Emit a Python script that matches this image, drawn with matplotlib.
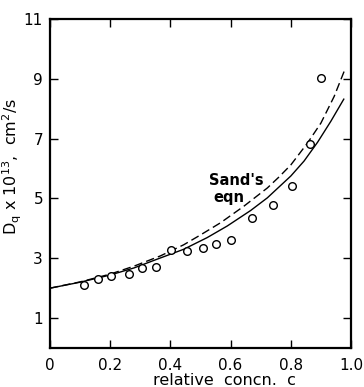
import matplotlib
matplotlib.use("Agg")
import matplotlib.pyplot as plt

# measured data points
c_pts = [0.113, 0.158, 0.204, 0.261, 0.306, 0.351, 0.403, 0.456, 0.508, 0.553, 0.600, 0.670, 0.740, 0.803, 0.863, 0.900]
d_pts = [2.11, 2.31, 2.41, 2.47, 2.66, 2.72, 3.27, 3.23, 3.34, 3.49, 3.60, 4.33, 4.77, 5.41, 6.83, 9.04]

# solid curve
c_solid = [0.0, 0.1, 0.2, 0.28, 0.356, 0.444, 0.522, 0.589, 0.667, 0.722, 0.8, 0.844, 0.889, 0.933, 0.976]
d_solid = [2.0, 2.2, 2.44, 2.68, 2.97, 3.3, 3.69, 4.08, 4.6, 5.02, 5.75, 6.25, 6.88, 7.58, 8.32]

# dashed curve (Sand's eqn)
c_dash = [0.0, 0.1, 0.2, 0.28, 0.367, 0.444, 0.5, 0.567, 0.644, 0.722, 0.761, 0.8, 0.856, 0.9, 0.944, 0.98]
d_dash = [2.0, 2.21, 2.47, 2.74, 3.08, 3.45, 3.78, 4.19, 4.74, 5.35, 5.72, 6.12, 6.86, 7.52, 8.41, 9.32]

xticks = [0, 0.2, 0.4, 0.6, 0.8, 1.0]
xticklabels = ["0", "0.2", "0.4", "0.6", "0.8", "1.0"]
yticks = [1, 3, 5, 7, 9, 11]
yticklabels = ["1", "3", "5", "7", "9", "11"]

plt.rcParams['font.family'] = ['DejaVu Sans']
fig = plt.figure(figsize=(3.64, 3.87), dpi=100)
ax = fig.add_axes([50/364, 1-348/387, 301/364, 329/387])

ax.plot(c_solid, d_solid, '-', color='black', lw=1.0)
ax.plot(c_dash, d_dash, '--', color='black', lw=1.0, dashes=(6, 3))
ax.plot(c_pts, d_pts, 'o', mfc='white', mec='black', ms=5.5, mew=1.0, zorder=3)

ax.set_xlim(0, 1.0)
ax.set_ylim(0, 11)
ax.set_xticks(xticks)
ax.set_xticklabels(xticklabels)
ax.set_yticks(yticks)
ax.set_yticklabels(yticklabels)
ax.tick_params(direction='in', length=6, width=1, top=True, right=True, labelsize=11, pad=5)
ax.tick_params(axis='x', pad=7)
for s in ax.spines.values():
    s.set_linewidth(1.6)

ax.set_xlabel("relative  concn.  c", fontsize=11.5)
ax.xaxis.set_label_coords(0.58, -0.075)
ax.set_ylabel(r"D$_\mathregular{q}$ x 10$^{\mathregular{13}}$,  cm$^2$/s", fontsize=11.5)
ax.yaxis.set_label_coords(-0.085, 0.553)

ax.text(0.527, 5.6, "Sand's", fontsize=10.5, fontweight='bold', ha='left', va='center')
ax.text(0.543, 5.03, "eqn", fontsize=10.5, fontweight='bold', ha='left', va='center')

fig.savefig("out.png", dpi=100)
